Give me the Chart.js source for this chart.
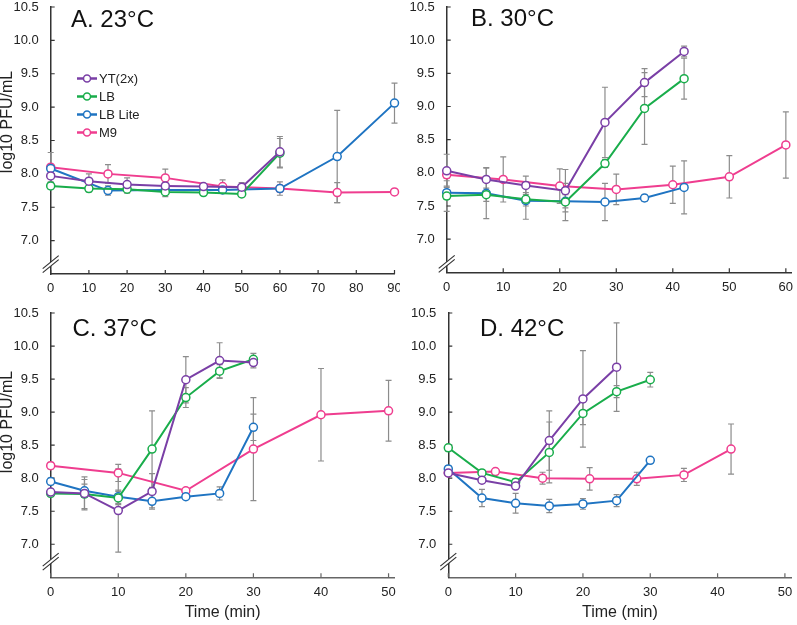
<!DOCTYPE html>
<html>
<head>
<meta charset="utf-8">
<script src="https://cdn.jsdelivr.net/npm/chart.js@4.4.1/dist/chart.umd.min.js"></script>
<style>
  html, body { margin: 0; padding: 0; background: #fff; }
  #wrap { position: relative; width: 797px; height: 625px; overflow: hidden; }
  #wrap canvas { position: absolute; }
</style>
</head>
<body>
<div id="wrap">
  <canvas id="chartA" width="400" height="305" style="left:0;top:0"></canvas>
  <canvas id="chartB" width="397" height="305" style="left:400px;top:0"></canvas>
  <canvas id="chartC" width="400" height="320" style="left:0;top:305px"></canvas>
  <canvas id="chartD" width="397" height="320" style="left:400px;top:305px"></canvas>
</div>
<script>
/* ===== Data (log10 PFU/mL, mean and sd) ===== */
const seriesNames = ['YT(2x)', 'LB', 'LB Lite', 'M9'];
const yTicks = [7.0, 7.5, 8.0, 8.5, 9.0, 9.5, 10.0, 10.5];

// A. 23°C
const a_t10 = [0, 10, 20, 30, 40, 50, 60];
const a_t15 = [0, 15, 30, 45, 60, 75, 90];
const a_yt = [7.97, 7.89, 7.84, 7.82, 7.81, 7.80, 8.33];
const a_yt_sd = [0.10, 0.11, 0.10, 0.06, 0.04, 0.07, 0.23];
const a_lb = [7.82, 7.78, 7.77, 7.73, 7.72, 7.70, 8.31];
const a_lb_sd = [0.05, 0.05, 0.06, 0.07, 0.03, 0.04, 0.22];
const a_lite = [8.08, 7.75, 7.76, 7.76, 7.78, 8.26, 9.06];
const a_lite_sd = [0.05, 0.07, 0.05, 0.04, 0.05, 0.69, 0.30];
const a_m9 = [8.10, 8.00, 7.94, 7.81, 7.78, 7.72, 7.73];
const a_m9_sd = [0.22, 0.14, 0.13, 0.10, 0.10, 0.15, 0.02];

// B. 30°C
const b_t7 = [0, 7, 14, 21, 28, 35, 42];
const b_t10 = [0, 10, 20, 30, 40, 50, 60];
const b_yt = [8.03, 7.90, 7.81, 7.73, 8.76, 9.36, 9.83];
const b_yt_sd = [0.25, 0.18, 0.14, 0.32, 0.53, 0.21, 0.08];
const b_lb = [7.65, 7.67, 7.60, 7.56, 8.14, 8.97, 9.42];
const b_lb_sd = [0.23, 0.10, 0.10, 0.28, 0.06, 0.54, 0.31];
const b_lite = [7.70, 7.69, 7.58, 7.57, 7.56, 7.62, 7.78];
const b_lite_sd = [0.10, 0.38, 0.28, 0.10, 0.28, 0.05, 0.40];
const b_m9 = [7.97, 7.90, 7.80, 7.75, 7.82, 7.94, 8.42];
const b_m9_sd = [0.05, 0.34, 0.26, 0.23, 0.28, 0.32, 0.50];

// C. 37°C
const c_t5 = [0, 5, 10, 15, 20, 25, 30];
const c_t10 = [0, 10, 20, 30, 40, 50];
const c_yt = [7.79, 7.77, 7.51, 7.80, 9.49, 9.78, 9.75];
const c_yt_sd = [0.05, 0.25, 0.63, 0.27, 0.35, 0.27, 0.08];
const c_lb = [7.77, 7.76, 7.70, 8.44, 9.22, 9.62, 9.80];
const c_lb_sd = [0.05, 0.22, 0.10, 0.58, 0.15, 0.10, 0.09];
const c_lite = [7.95, 7.81, 7.72, 7.65, 7.72, 7.77, 8.77];
const c_lite_sd = [0.05, 0.10, 0.10, 0.10, 0.03, 0.10, 0.20];
const c_m9 = [8.19, 8.08, 7.81, 8.44, 8.96, 9.02];
const c_m9_sd = [0.05, 0.13, 0.03, 0.78, 0.70, 0.46];

// D. 42°C
const d_t5 = [0, 5, 10, 15, 20, 25, 30];
const d_t7 = [0, 7, 14, 21, 28, 35, 42];
const d_yt = [8.08, 7.97, 7.88, 8.57, 9.20, 9.68];
const d_yt_sd = [0.05, 0.05, 0.03, 0.45, 0.73, 0.67];
const d_lb = [8.46, 8.08, 7.94, 8.39, 8.98, 9.31, 9.49];
const d_lb_sd = [0.05, 0.05, 0.05, 0.46, 0.17, 0.09, 0.11];
const d_lite = [8.14, 7.70, 7.62, 7.58, 7.61, 7.66, 8.27];
const d_lite_sd = [0.05, 0.13, 0.15, 0.10, 0.08, 0.09, 0.03];
const d_m9 = [8.08, 8.10, 8.00, 7.99, 7.99, 8.05, 8.44];
const d_m9_sd = [0.03, 0.02, 0.09, 0.17, 0.10, 0.10, 0.38];

/* ===== Styles ===== */
const seriesColors = ['#7a3fa6', '#19ad4b', '#1f74c2', '#ef3d8f'];
const FONT = "'Liberation Sans', Arial, Helvetica, sans-serif";
Chart.defaults.font.family = FONT;
Chart.defaults.font.size = 13;
Chart.defaults.color = '#222';

// gray error bars, drawn under the lines
const errorBars = {
  id: 'errorBars',
  beforeDatasetsDraw(chart) {
    const { ctx, scales: { x, y } } = chart;
    ctx.save();
    ctx.strokeStyle = '#8c8c8c';
    ctx.lineWidth = 1.2;
    chart.data.datasets.forEach(ds => {
      ds.data.forEach((p, i) => {
        const e = ds.errors && ds.errors[i];
        if (!e) return;
        const px = x.getPixelForValue(p.x);
        const top = y.getPixelForValue(p.y + e);
        const bot = y.getPixelForValue(p.y - e);
        ctx.beginPath();
        ctx.moveTo(px, top); ctx.lineTo(px, bot);
        ctx.moveTo(px - 3, top); ctx.lineTo(px + 3, top);
        ctx.moveTo(px - 3, bot); ctx.lineTo(px + 3, bot);
        ctx.stroke();
      });
    });
    ctx.restore();
  }
};

// tick marks pointing into the plot, like the original
const inwardTicks = {
  id: 'inwardTicks',
  beforeDatasetsDraw(chart, args, opts) {
    const { ctx, chartArea, scales: { x, y } } = chart;
    ctx.save();
    ctx.lineWidth = 1.2;
    ctx.strokeStyle = opts.xColor;
    ctx.beginPath();
    x.ticks.forEach(t => {
      const px = x.getPixelForValue(t.value);
      ctx.moveTo(px, chartArea.bottom); ctx.lineTo(px, chartArea.bottom - 4);
    });
    ctx.stroke();
    ctx.strokeStyle = '#333';
    ctx.beginPath();
    y.ticks.forEach(t => {
      const py = y.getPixelForValue(t.value);
      ctx.moveTo(chartArea.left, py); ctx.lineTo(chartArea.left + 4, py);
    });
    ctx.stroke();
    ctx.restore();
  }
};

// "//" break on the y axis + panel label + y title
const panelDeco = {
  id: 'panelDeco',
  afterDraw(chart, args, opts) {
    const { ctx, chartArea, scales: { y } } = chart;
    const cx = chartArea.left;
    const cy = y.getPixelForValue(opts.breakAt);
    ctx.save();
    ctx.fillStyle = '#fff';
    ctx.beginPath();
    ctx.moveTo(cx - 8, cy + 8); ctx.lineTo(cx + 8, cy - 5);
    ctx.lineTo(cx + 8, cy - 9); ctx.lineTo(cx - 8, cy + 4);
    ctx.closePath();
    ctx.fill();
    ctx.strokeStyle = '#333';
    ctx.lineWidth = 1.2;
    ctx.beginPath();
    ctx.moveTo(cx - 8, cy + 8); ctx.lineTo(cx + 8, cy - 5);
    ctx.moveTo(cx - 8, cy + 4); ctx.lineTo(cx + 8, cy - 9);
    ctx.stroke();

    ctx.fillStyle = '#111';
    ctx.font = '24px ' + FONT;
    ctx.textAlign = 'left';
    ctx.textBaseline = 'alphabetic';
    ctx.fillText(opts.label, opts.labelX, opts.labelY);

    if (opts.yTitle) {
      ctx.translate(opts.yTitleX, opts.yTitleY);
      ctx.rotate(-Math.PI / 2);
      ctx.font = '16px ' + FONT;
      ctx.textAlign = 'center';
      ctx.textBaseline = 'middle';
      ctx.fillStyle = '#222';
      ctx.fillText(opts.yTitle, 0, 0);
    }
    ctx.restore();
  }
};

// legend stacked inside panel A
const miniLegend = {
  id: 'miniLegend',
  afterDraw(chart, args, opts) {
    const { ctx } = chart;
    ctx.save();
    chart.data.datasets.forEach((ds, i) => {
      const yy = opts.y + i * opts.gap;
      ctx.strokeStyle = ds.borderColor;
      ctx.lineWidth = 2.5;
      ctx.beginPath();
      ctx.moveTo(opts.x, yy); ctx.lineTo(opts.x + 20, yy);
      ctx.stroke();
      ctx.beginPath();
      ctx.arc(opts.x + 10, yy, 3.5, 0, Math.PI * 2);
      ctx.fillStyle = '#fff';
      ctx.fill();
      ctx.lineWidth = 1.5;
      ctx.stroke();
      ctx.fillStyle = '#222';
      ctx.font = '13px ' + FONT;
      ctx.textBaseline = 'middle';
      ctx.fillText(ds.label, opts.x + 22, yy + 1);
    });
    ctx.restore();
  }
};

function makeDatasets(series) {
  return series.map(([t, v, sd], i) => ({
    label: seriesNames[i],
    data: v.map((val, k) => ({ x: t[k], y: val })),
    errors: sd,
    borderColor: seriesColors[i],
    backgroundColor: seriesColors[i],
    borderWidth: 2,
    pointRadius: 4,
    pointBorderWidth: 1.5,
    pointBackgroundColor: '#fff',
    pointBorderColor: seriesColors[i],
    tension: 0,
    clip: false
  }));
}

const panels = [
  { id: 'chartA', label: 'A. 23°C', labelX: 71, labelY: 26.5, yTitle: 'log10 PFU/mL', yTitleX: 8, yTitleY: 122,
    breakAt: 6.64, xMax: 90, yWidth: 50.7, xHeight: 31, pad: { top: 7, right: 2.7 }, xTitle: false, legend: true,
    xColor: '#333',
    series: [[a_t10, a_yt, a_yt_sd], [a_t10, a_lb, a_lb_sd], [a_t15, a_lite, a_lite_sd], [a_t15, a_m9, a_m9_sd]] },
  { id: 'chartB', label: 'B. 30°C', labelX: 71, labelY: 26, yTitle: null,
    breakAt: 6.62, xMax: 61, yWidth: 46.7, xHeight: 32.7, pad: { top: 7, right: 5.3 }, xTitle: false, legend: false,
    xColor: '#333',
    series: [[b_t7, b_yt, b_yt_sd], [b_t7, b_lb, b_lb_sd], [b_t7, b_lite, b_lite_sd], [b_t10, b_m9, b_m9_sd]] },
  { id: 'chartC', label: 'C. 37°C', labelX: 72.5, labelY: 31, yTitle: 'log10 PFU/mL', yTitleX: 8, yTitleY: 117,
    breakAt: 6.73, xMax: 50.88, yWidth: 50.7, xHeight: 47.7, pad: { top: 8, right: 4 }, xTitle: true, legend: false,
    xColor: '#666',
    series: [[c_t5, c_yt, c_yt_sd], [c_t5, c_lb, c_lb_sd], [c_t5, c_lite, c_lite_sd], [c_t10, c_m9, c_m9_sd]] },
  { id: 'chartD', label: 'D. 42°C', labelX: 80, labelY: 31, yTitle: null,
    breakAt: 6.73, xMax: 50.98, yWidth: 48.3, xHeight: 47.7, pad: { top: 8, right: 1 }, xTitle: true, legend: false,
    xColor: '#666',
    series: [[d_t5, d_yt, d_yt_sd], [d_t5, d_lb, d_lb_sd], [d_t5, d_lite, d_lite_sd], [d_t7, d_m9, d_m9_sd]] }
];

panels.forEach(p => {
  const plugins = [errorBars, inwardTicks, panelDeco];
  if (p.legend) plugins.push(miniLegend);
  new Chart(document.getElementById(p.id), {
    type: 'line',
    data: { datasets: makeDatasets(p.series) },
    plugins,
    options: {
      responsive: false,
      animation: false,
      layout: { padding: { left: 0, top: p.pad.top, right: p.pad.right, bottom: 0 } },
      plugins: {
        legend: { display: false },
        tooltip: { enabled: false },
        inwardTicks: { xColor: p.xColor },
        panelDeco: { label: p.label, labelX: p.labelX, labelY: p.labelY, yTitle: p.yTitle,
                     yTitleX: p.yTitleX, yTitleY: p.yTitleY, breakAt: p.breakAt },
        miniLegend: { x: 77, y: 78.5, gap: 18 }
      },
      scales: {
        x: {
          type: 'linear',
          min: 0,
          max: p.xMax,
          afterFit: s => { s.height = p.xHeight; s.paddingLeft = 0; s.paddingRight = 0; },
          ticks: { stepSize: 10, includeBounds: false, padding: 7, maxRotation: 0, color: '#222', font: { size: 13 } },
          grid: { display: false, drawTicks: false },
          border: { color: p.xColor, width: 1.5 },
          title: { display: p.xTitle, text: 'Time (min)', color: '#222', font: { size: 16 }, padding: { top: 0, bottom: 3 } }
        },
        y: {
          min: 6.5,
          max: 10.5,
          afterFit: s => { s.width = p.yWidth; s.paddingTop = 0; s.paddingBottom = 0; },
          afterBuildTicks: s => { s.ticks = yTicks.map(v => ({ value: v })); },
          ticks: { stepSize: 0.5, padding: 12, color: '#222', font: { size: 13 }, callback: v => v.toFixed(1) },
          grid: { display: false, drawTicks: false },
          border: { color: '#333', width: 1.5 }
        }
      }
    }
  });
});
</script>
</body>
</html>
